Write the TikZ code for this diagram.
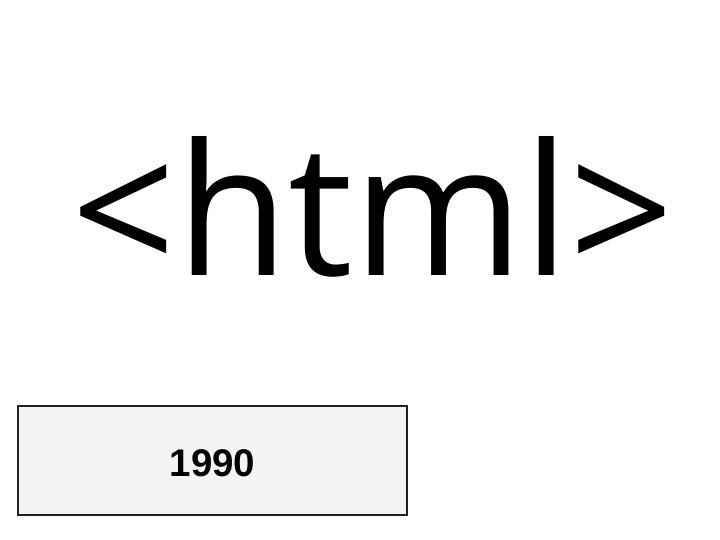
\documentclass[tikz,border=0pt]{standalone}
\usepackage{fontspec}
\setmainfont{Liberation Sans}
\newfontfamily\tagfont{Open Sans}
\usepackage{tikz}
\usetikzlibrary{positioning}
\definecolor{boxgray}{HTML}{F4F4F4}
\definecolor{edgegray}{HTML}{222222}

\begin{document}
\begin{tikzpicture}[x=1pt,y=-1pt,
tag/.style={inner sep=0pt,anchor=base,font=\tagfont\fontsize{183}{183}\selectfont},
yearbox/.style={draw=edgegray,fill=boxgray,line width=1.2pt,minimum width=389pt,minimum height=109pt,inner sep=0pt,text height=31.6pt,text depth=0pt,font=\bfseries\fontsize{38.5}{38.5}\selectfont}]
\useasboundingbox (0,0) rectangle (720,540);
\node[tag] (html) at (373,275) {<html>};
\node[yearbox] (year) at (212.5,460.5) {1990};
\end{tikzpicture}
\end{document}
